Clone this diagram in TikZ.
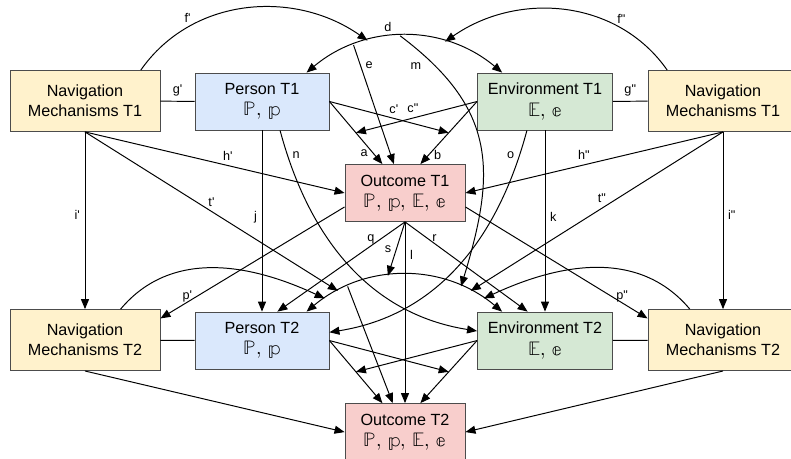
\documentclass[tikz,border=0pt]{standalone}
\usepackage{fontspec}
\usepackage{unicode-math}
\setmainfont{Liberation Sans}
\usetikzlibrary{positioning,arrows.meta}

\definecolor{navfill}{HTML}{FFF2CC}
\definecolor{perfill}{HTML}{DAE8FC}
\definecolor{envfill}{HTML}{D5E8D4}
\definecolor{resfill}{HTML}{F8CECC}

\newcommand{\onep}{\textquotesingle}
\newcommand{\twop}{\textquotedbl}
\newcommand{\bbsize}{\fontsize{14}{16}\selectfont}

\begin{document}
\begin{tikzpicture}[x=0.025cm, y=-0.025cm, node distance={5.975cm},
  >={Triangle[length=2.5mm, width=2mm]},
  box/.style = {draw=black!70, line width=0.6pt, align=center, inner sep=0pt, font=\fontsize{11.5}{14.2}\selectfont},
  nav/.style = {box, fill=navfill, minimum width=3.75cm, minimum height=1.525cm},
  per/.style = {box, fill=perfill, minimum width=3.35cm, minimum height=1.425cm},
  env/.style = {box, fill=envfill, minimum width=3.375cm, minimum height=1.425cm},
  res/.style = {box, fill=resfill, minimum width=3cm, minimum height=1.425cm},
  lbl/.style = {font=\fontsize{9}{10}\selectfont},
  link/.style = {line width=0.7pt, ->},
  both/.style = {line width=0.7pt, <->},
  tie/.style = {line width=0.7pt}]
\useasboundingbox (0,0) rectangle (791,459);
\clip (0,0) rectangle (791,459);

% time 1
\node[nav] (navL1) at (85,101) {Navigation\\Mechanisms T1};
\node[per] (per1) at (262,101.5) {Person T1\\[1pt]\bbsize $\mathbb{P},\,\mathbb{p}$};
\node[env] (env1) at (545,101.5) {Environment T1\\[1pt]\bbsize $\mathbb{E},\,\mathbb{e}$};
\node[nav] (navR1) at (723,101) {Navigation\\Mechanisms T1};
\node[res] (res1) at (405,193) {Outcome T1\\[1pt]\bbsize $\mathbb{P},\,\mathbb{p},\,\mathbb{E},\,\mathbb{e}$};

% time 2
\node[nav] (navL2) [below of=navL1] {Navigation\\Mechanisms T2};
\node[per] (per2) [below of=per1] {Person T2\\[1pt]\bbsize $\mathbb{P},\,\mathbb{p}$};
\node[env] (env2) [below of=env1] {Environment T2\\[1pt]\bbsize $\mathbb{E},\,\mathbb{e}$};
\node[nav] (navR2) [below of=navR1] {Navigation\\Mechanisms T2};
\node[res] (res2) [below of=res1] {Outcome T2\\[1pt]\bbsize $\mathbb{P},\,\mathbb{p},\,\mathbb{E},\,\mathbb{e}$};

% T1 links
\draw[tie] (navL1) -- node[lbl, above] {g\onep} (per1);
\draw[tie] (env1) -- node[lbl, above] {g\twop} (navR1);
\draw[both] (per1.33) to[out=40, in=140]
  coordinate[pos=.25] (dE) coordinate[pos=.32] (dF) coordinate[pos=.48] (dM) coordinate[pos=.70] (dG)
  node[lbl, above, pos=.42] {d} (env1.146);
\draw[link] (navL1.29) to[out=55, in=145] node[lbl, above, pos=.25] {f\onep} (dF);
\draw[link] (navR1.151) to[out=125, in=35] node[lbl, above, pos=.25] {f\twop} (dG);
\draw[link] (dE) -- node[lbl, right, pos=.17] {e} (res1.111);
\draw[link] (per1.east) -- coordinate[pos=.5] (aM) node[lbl, left, pos=.82] {a} (res1.128);
\draw[link] (env1.west) -- coordinate[pos=.5] (bM) node[lbl, right, pos=.85] {b} (res1.62);
\draw[link] (per1.east) -- node[lbl, above, pos=.54] {c\onep} (bM);
\draw[link] (env1.west) -- node[lbl, above, pos=.53] {c\twop} (aM);
\draw[link] (navL1.south) -- node[lbl, above, pos=.55] {h\onep} (res1.west);
\draw[link] (navR1.south) -- node[lbl, above, pos=.54] {h\twop} (res1.east);

% T2 links
\draw[tie] (navL2) -- (per2);
\draw[tie] (env2) -- (navR2);
\draw[both] (per2.33) to[out=40, in=140]
  coordinate[pos=.10] (pL) coordinate[pos=.17] (tL) coordinate[pos=.22] (eL)
  coordinate[pos=.42] (sT) coordinate[pos=.78] (mT) coordinate[pos=.83] (tR)
  coordinate[pos=.90] (pR) (env2.146);
\draw[link] (navL2.41) to[out=50, in=155] (pL);
\draw[link] (navR2.137) to[out=130, in=25] (pR);
\draw[link] (eL) -- (res2.113);
\draw[link] (per2.east) -- coordinate[pos=.5] (aN) (res2.128);
\draw[link] (env2.west) -- coordinate[pos=.5] (bN) (res2.62);
\draw[link] (per2.east) -- (bN);
\draw[link] (env2.west) -- (aN);
\draw[link] (navL2.south) -- (res2.west);
\draw[link] (navR2.south) -- (res2.east);

% T1 to T2
\draw[link] (navL1.south) -- node[lbl, left, pos=.47] {i\onep} (navL2.north);
\draw[link] (navR1.south) -- node[lbl, right, pos=.47] {i\twop} (navR2.north);
\draw[link] (per1.south) -- node[lbl, left, pos=.48] {j} (per2.north);
\draw[link] (env1.south) -- node[lbl, right, pos=.48] {k} (env2.north);
\draw[link] (res1.south) -- node[lbl, right, pos=.18] {l} (res2.north);
\draw[link] (dM) to[out=-37, in=73, looseness=1.2] node[lbl, below left, pos=.1] {m} (mT);
\draw[link] (per1.-58) to[out=-75, in=171] node[lbl, right, pos=.08] {n} (env2.172);
\draw[link] (env1.-122) to[out=-105, in=9] node[lbl, left, pos=.08] {o} (per2.7);
\draw[link] (res1.193) -- node[lbl, left, pos=.8] {p\onep} (navL2.16);
\draw[link] (res1.-13) -- node[lbl, right, pos=.8] {p\twop} (navR2.164);
\draw[link] (res1.south) -- node[lbl, left, pos=.2] {q} (per2.62);
\draw[link] (res1.south) -- node[lbl, right, pos=.18] {r} (env2.121);
\draw[link] (res1.south) -- node[lbl, left, pos=.5] {s} (sT);
\draw[link] (navL1.south) -- node[lbl, above, pos=.5] {t\onep} (tL);
\draw[link] (navR1.south) -- node[lbl, above, pos=.48] {t\twop} (tR);
\end{tikzpicture}
\end{document}
